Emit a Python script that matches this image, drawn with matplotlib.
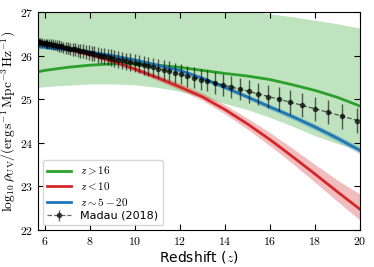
import matplotlib
matplotlib.use('Agg')
import matplotlib.pyplot as plt
from matplotlib.ticker import FuncFormatter

plt.rcParams['mathtext.fontset'] = 'cm'

# model curves
z_model = [5.7, 6, 7, 8, 9, 10, 11, 12, 13, 14, 15, 16, 17, 18, 19, 20]

green_mid = [25.63, 25.66, 25.73, 25.78, 25.81, 25.81, 25.78, 25.73, 25.66, 25.59, 25.53, 25.45, 25.33, 25.20, 25.04, 24.84]
green_hi = [27.55, 27.55, 27.53, 27.50, 27.45, 27.40, 27.33, 27.26, 27.18, 27.10, 27.03, 26.96, 26.89, 26.81, 26.73, 26.63]
green_lo = [25.27, 25.29, 25.32, 25.35, 25.35, 25.33, 25.27, 25.18, 25.05, 24.90, 24.76, 24.58, 24.38, 24.16, 23.98, 23.83]

red_mid = [26.30, 26.27, 26.15, 26.02, 25.87, 25.69, 25.49, 25.28, 25.05, 24.76, 24.43, 24.07, 23.68, 23.28, 22.87, 22.47]
red_hi = [26.33, 26.30, 26.19, 26.06, 25.92, 25.75, 25.56, 25.36, 25.14, 24.87, 24.56, 24.23, 23.87, 23.50, 23.14, 22.82]
red_lo = [26.27, 26.24, 26.11, 25.98, 25.82, 25.64, 25.43, 25.21, 24.97, 24.66, 24.31, 23.93, 23.52, 23.09, 22.65, 22.22]

blue_mid = [26.20, 26.19, 26.14, 26.08, 26.00, 25.90, 25.78, 25.66, 25.48, 25.27, 25.05, 24.82, 24.60, 24.36, 24.10, 23.82]
blue_hi = [26.24, 26.23, 26.18, 26.12, 26.04, 25.94, 25.82, 25.70, 25.53, 25.32, 25.10, 24.88, 24.66, 24.43, 24.17, 23.90]
blue_lo = [26.16, 26.15, 26.10, 26.04, 25.96, 25.86, 25.74, 25.62, 25.43, 25.22, 25.00, 24.76, 24.54, 24.29, 24.03, 23.74]

# Madau (2018) points
z_madau = [5.72, 5.80, 5.87, 5.95, 6.03, 6.11, 6.19, 6.27, 6.36, 6.45, 6.54, 6.63, 6.72,
           6.82, 6.92, 7.02, 7.12, 7.23, 7.34, 7.45, 7.57, 7.69, 7.81, 7.94, 8.07, 8.20,
           8.34, 8.48, 8.62, 8.78, 8.93, 9.09, 9.26, 9.43, 9.60, 9.79, 9.98, 10.17, 10.38,
           10.59, 10.81, 11.03, 11.27, 11.52, 11.77, 12.04, 12.32, 12.61, 12.91, 13.22,
           13.56, 13.90, 14.27, 14.65, 15.05, 15.47, 15.92, 16.39, 16.89, 17.42, 17.98,
           18.57, 19.20, 19.88]
rho_madau = [26.32, 26.31, 26.30, 26.29, 26.28, 26.27, 26.26, 26.26, 26.25, 26.24, 26.23, 26.22, 26.21,
             26.19, 26.18, 26.17, 26.16, 26.15, 26.14, 26.12, 26.11, 26.10, 26.08, 26.07, 26.05, 26.04,
             26.02, 26.00, 25.99, 25.97, 25.95, 25.93, 25.91, 25.89, 25.87, 25.85, 25.83, 25.80, 25.78,
             25.75, 25.73, 25.70, 25.67, 25.64, 25.61, 25.57, 25.53, 25.49, 25.45, 25.42,
             25.37, 25.33, 25.28, 25.23, 25.18, 25.12, 25.06, 25.00, 24.93, 24.86, 24.78,
             24.70, 24.61, 24.51]
err_madau = [0.09, 0.09, 0.10, 0.10, 0.10, 0.11, 0.11, 0.11, 0.12,
             0.12, 0.12, 0.13, 0.13, 0.13, 0.14, 0.14, 0.14, 0.15, 0.15, 0.15,
             0.16, 0.16, 0.16, 0.17, 0.17, 0.17, 0.18, 0.18, 0.18, 0.19, 0.19, 0.19,
             0.20, 0.20, 0.20, 0.21, 0.21, 0.21, 0.22, 0.22, 0.22, 0.22, 0.23, 0.23, 0.23, 0.23,
             0.24, 0.24, 0.24, 0.24, 0.25, 0.25, 0.25, 0.25, 0.26, 0.26, 0.26, 0.27, 0.27, 0.27,
             0.28, 0.28, 0.29, 0.29]


def plot_data():
    fig = plt.figure(figsize=(3.74, 2.67), dpi=100)
    ax = fig.add_axes([0.102, 0.139, 0.861, 0.816])

    ax.fill_between(z_model, green_lo, green_hi, color='tab:green', alpha=0.3, lw=0)
    ax.fill_between(z_model, red_lo, red_hi, color='tab:red', alpha=0.3, lw=0)
    ax.fill_between(z_model, blue_lo, blue_hi, color='tab:blue', alpha=0.3, lw=0)

    ax.plot(z_model, green_mid, color='tab:green', lw=2, label=r'$z > 16$')
    ax.plot(z_model, red_mid, color='tab:red', lw=2, label=r'$z < 10$')
    ax.plot(z_model, blue_mid, color='tab:blue', lw=2, label=r'$z \sim 5-20$')

    ax.errorbar(z_madau, rho_madau, yerr=err_madau, fmt='o--', color='k',
                elinewidth=1, markersize=3, lw=0.9, alpha=0.6,
                label='Madau (2018)')

    ax.set_xlim(5.7, 20)
    ax.set_ylim(22, 27)
    ax.set_xticks([6, 8, 10, 12, 14, 16, 18, 20])
    ax.set_yticks([22, 23, 24, 25, 26, 27])
    fmt = FuncFormatter(lambda v, p: r'$%d$' % v)
    ax.xaxis.set_major_formatter(fmt)
    ax.yaxis.set_major_formatter(fmt)
    ax.tick_params(direction='in', top=True, right=True, length=4, labelsize=8.5)

    ax.set_xlabel(r'Redshift ($z$)', fontsize=10, labelpad=1)
    ax.set_ylabel(r'$\log_{10}\rho_{\rm UV}/({\rm erg\,s^{-1}\,Mpc^{-3}\,Hz^{-1}})$',
                  fontsize=9.7, labelpad=1)

    ax.legend(loc='lower left', fontsize=8, handlelength=2.2, borderaxespad=0.4,
              labelspacing=0.3)

    fig.savefig('out.png', dpi=100)


if __name__ == "__main__":
    plot_data()
